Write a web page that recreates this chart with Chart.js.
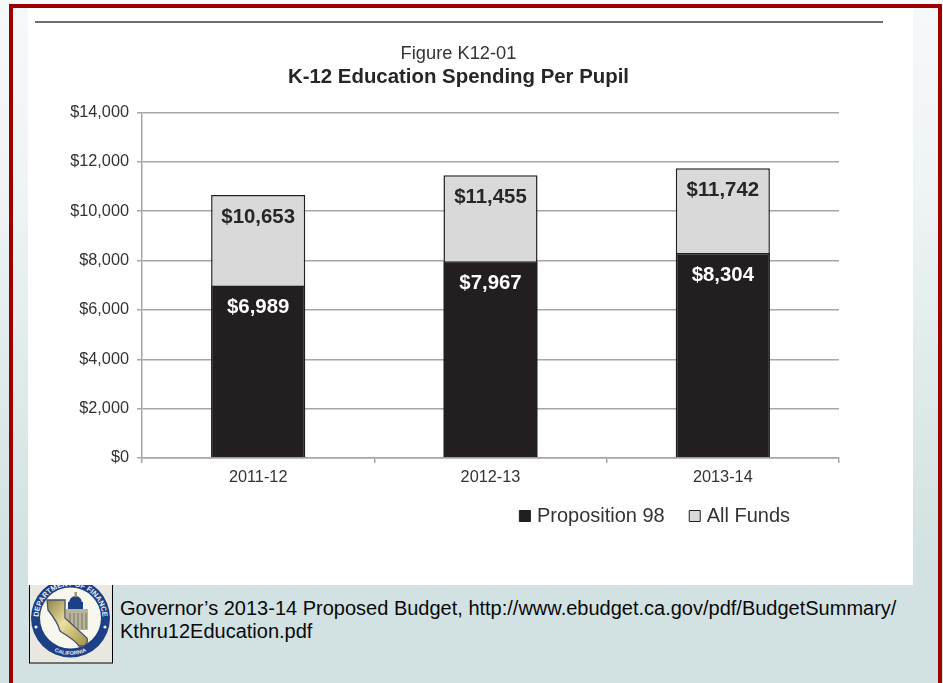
<!DOCTYPE html>
<html>
<head>
<meta charset="utf-8">
<style>
  html, body { margin: 0; padding: 0; }
  body { width: 943px; height: 683px; position: relative; overflow: hidden;
         background: linear-gradient(to bottom, #f6f9f9 0, #eef3f4 200px, #d2e1e1 560px, #d2e1e1 100%);
         font-family: "Liberation Sans", Arial, sans-serif; }
  #frame { position: absolute; left: 9px; top: 4px; width: 925px; height: 690px;
           box-sizing: content-box; border: 4.5px solid #9c0000; border-bottom: none; }
  #panel { position: absolute; left: 28px; top: 8px; width: 885px; height: 577px; background: #fff; }
  #rule { position: absolute; left: 35px; top: 21px; width: 848px; height: 1.5px; background: #6e6e6e; }
  #chart-box { position: absolute; left: 28px; top: 8px; width: 885px; height: 577px; }
  #seal { position: absolute; left: 29px; top: 585px; width: 84px; height: 79px; }
  #source { position: absolute; left: 120px; top: 596.5px; font-size: 20px; line-height: 23px; color: #0a0a0a; white-space: nowrap; }
</style>
</head>
<body>
<div id="panel"></div>
<div id="frame"></div>
<div id="rule"></div>
<div id="chart-box"><canvas id="chart" width="885" height="577"></canvas></div>

<svg id="seal" viewBox="0 0 84 79" xmlns="http://www.w3.org/2000/svg">
  <defs>
    <linearGradient id="gold" x1="0" y1="0" x2="1" y2="1">
      <stop offset="0" stop-color="#8f8448"/><stop offset="0.45" stop-color="#eadf9e"/><stop offset="1" stop-color="#a08f42"/>
    </linearGradient>
    <path id="arcTop" d="M 11.4 43.9 A 32 32 0 1 1 71.6 43.9"/>
    <path id="arcBottom" d="M 23 65 A 37 37 0 0 0 60 65"/>
    <clipPath id="sealClip"><rect x="0" y="0" width="84" height="79"/></clipPath>
  </defs>
  <rect x="0.5" y="-1" width="83" height="79" fill="#e9e8e0" stroke="#000"/>
  <g clip-path="url(#sealClip)">
    <circle cx="41.5" cy="33" r="39.5" fill="#1d3f85"/>
    <circle cx="41.5" cy="33" r="30.5" fill="#f8f7ee"/>
    <circle cx="7" cy="42" r="1.6" fill="#e8ecf4"/>
    <circle cx="76" cy="42" r="1.6" fill="#e8ecf4"/>
    <!-- Capitol building behind the state outline -->
    <rect x="37" y="24" width="22" height="21" fill="#b9b59c"/>
    <path d="M 39 17 L 54 17 L 54 24 L 39 24 Z" fill="#1d3f85"/>
    <path d="M 40 18 A 6.5 7 0 0 1 53 18 Z" fill="#1d3f85"/>
    <rect x="45.5" y="7" width="2.4" height="5" fill="#9a9478"/>
    <path d="M 41 28 V 44 M 45 28 V 44 M 49 28 V 44 M 53 28 V 44 M 57 28 V 44" stroke="#6e6c5c" stroke-width="0.9"/>
    <!-- State outline -->
    <path d="M 18 15 L 36 15 L 36 33 L 58 53 C 59 56 58 59 55 61 L 50 61 C 45 54 38 51 31 46 C 29 38 23 30 19 25 Z"
          fill="url(#gold)" stroke="#48506e" stroke-width="1.3"/>
    <text font-family="Liberation Sans, Arial, sans-serif" font-size="7.4" font-weight="bold" fill="#e8ecf4">
      <textPath href="#arcTop" startOffset="50%" text-anchor="middle">DEPARTMENT OF FINANCE</textPath>
    </text>
    <text font-family="Liberation Sans, Arial, sans-serif" font-size="5.4" font-weight="bold" fill="#e8ecf4">
      <textPath href="#arcBottom" startOffset="50%" text-anchor="middle">CALIFORNIA</textPath>
    </text>
  </g>
</svg>

<div id="source">Governor’s 2013-14 Proposed Budget, http://www.ebudget.ca.gov/pdf/BudgetSummary/<br>Kthru12Education.pdf</div>

<script src="https://cdn.jsdelivr.net/npm/chart.js@4"></script>
<script>
const categories = ["2011-12", "2012-13", "2013-14"];
const proposition98 = [6989, 7967, 8304];
const allFunds = [10653, 11455, 11742];
const yMin = 0;
const yMax = 14000;
const yStep = 2000;

const fontFamily = '"Liberation Sans", Arial, sans-serif';
const money = v => "$" + v.toLocaleString("en-US");

// Writes each bar's value just inside its top edge.
const barValues = {
  id: "barValues",
  afterDatasetsDraw(chart) {
    const ctx = chart.ctx;
    chart.data.datasets.forEach((ds, i) => {
      chart.getDatasetMeta(i).data.forEach((bar, j) => {
        ctx.save();
        ctx.font = "bold 20.4px " + fontFamily;
        ctx.fillStyle = ds.valueColor;
        ctx.textAlign = "center";
        ctx.textBaseline = "middle";
        ctx.fillText(money(ds.data[j]), bar.x, bar.y + 22);
        ctx.restore();
      });
    });
  }
};

// Nudges the heading blocks and the legend away from their default slots:
// the heading sits slightly right of centre, the legend under the right of the plot.
const blockShift = {
  id: "blockShift",
  afterLayout(chart) {
    chart.boxes.filter(b => b.options && b.options.text).forEach(b => {
      b.left += 10;
      b.right += 10;
    });
    chart.legend.left += 208;
    chart.legend.right += 208;
    chart.legend.top -= 10;
    chart.legend.bottom -= 10;
  }
};

new Chart(document.getElementById("chart"), {
  type: "bar",
  plugins: [barValues, blockShift],
  data: {
    labels: categories,
    datasets: [
      { label: "Proposition 98", data: proposition98, order: 1, valueColor: "#ffffff",
        backgroundColor: "#231f20", borderColor: "#231f20", borderWidth: 1.5,
        grouped: false, barPercentage: 1, categoryPercentage: 0.405 },
      { label: "All Funds", data: allFunds, order: 2, valueColor: "#262626",
        backgroundColor: "#d9d9d9", borderColor: "#231f20", borderWidth: 1.5,
        grouped: false, barPercentage: 1, categoryPercentage: 0.405 }
    ]
  },
  options: {
    responsive: false,
    animation: false,
    layout: { padding: { left: 30, right: 74, top: 35, bottom: 39 } },
    plugins: {
      title: {
        display: true, text: "Figure K12-01", color: "#333333",
        font: { family: fontFamily, size: 18.3, weight: "normal" },
        padding: { top: 0, bottom: 0 }
      },
      subtitle: {
        display: true, text: "K-12 Education Spending Per Pupil", color: "#262626",
        font: { family: fontFamily, size: 20.4, weight: "bold" },
        padding: { top: 0, bottom: 23 }
      },
      legend: {
        display: true, position: "bottom",
        labels: {
          usePointStyle: true, boxWidth: 4, boxHeight: 11, padding: 28, color: "#333333",
          font: { family: fontFamily, size: 20 },
          generateLabels(chart) {
            return chart.data.datasets.map((ds, i) => ({
              text: ds.label, fillStyle: ds.backgroundColor, strokeStyle: "#231f20",
              lineWidth: 1, datasetIndex: i, fontColor: "#333333", pointStyle: "rect"
            }));
          }
        }
      },
      tooltip: { enabled: false }
    },
    scales: {
      x: {
        afterFit(scale) { scale.height = 30; },
        grid: { display: true, offset: true, drawOnChartArea: false, drawTicks: true, tickLength: 5, color: "#a6a6a6", lineWidth: 1.5 },
        border: { color: "#a6a6a6", width: 1.5 },
        ticks: { color: "#333333", padding: 5, maxRotation: 0,
                 font: { family: fontFamily, size: 16.3 } }
      },
      y: {
        min: yMin, max: yMax,
        afterFit(scale) { scale.width = 84; },
        grid: { color: "#a6a6a6", lineWidth: 1.5, tickLength: 5, drawTicks: true },
        border: { color: "#a6a6a6", width: 1.5 },
        ticks: { stepSize: yStep, color: "#333333", padding: 8, callback: v => money(v),
                 font: { family: fontFamily, size: 16.3 } }
      }
    }
  }
});
</script>
</body>
</html>
